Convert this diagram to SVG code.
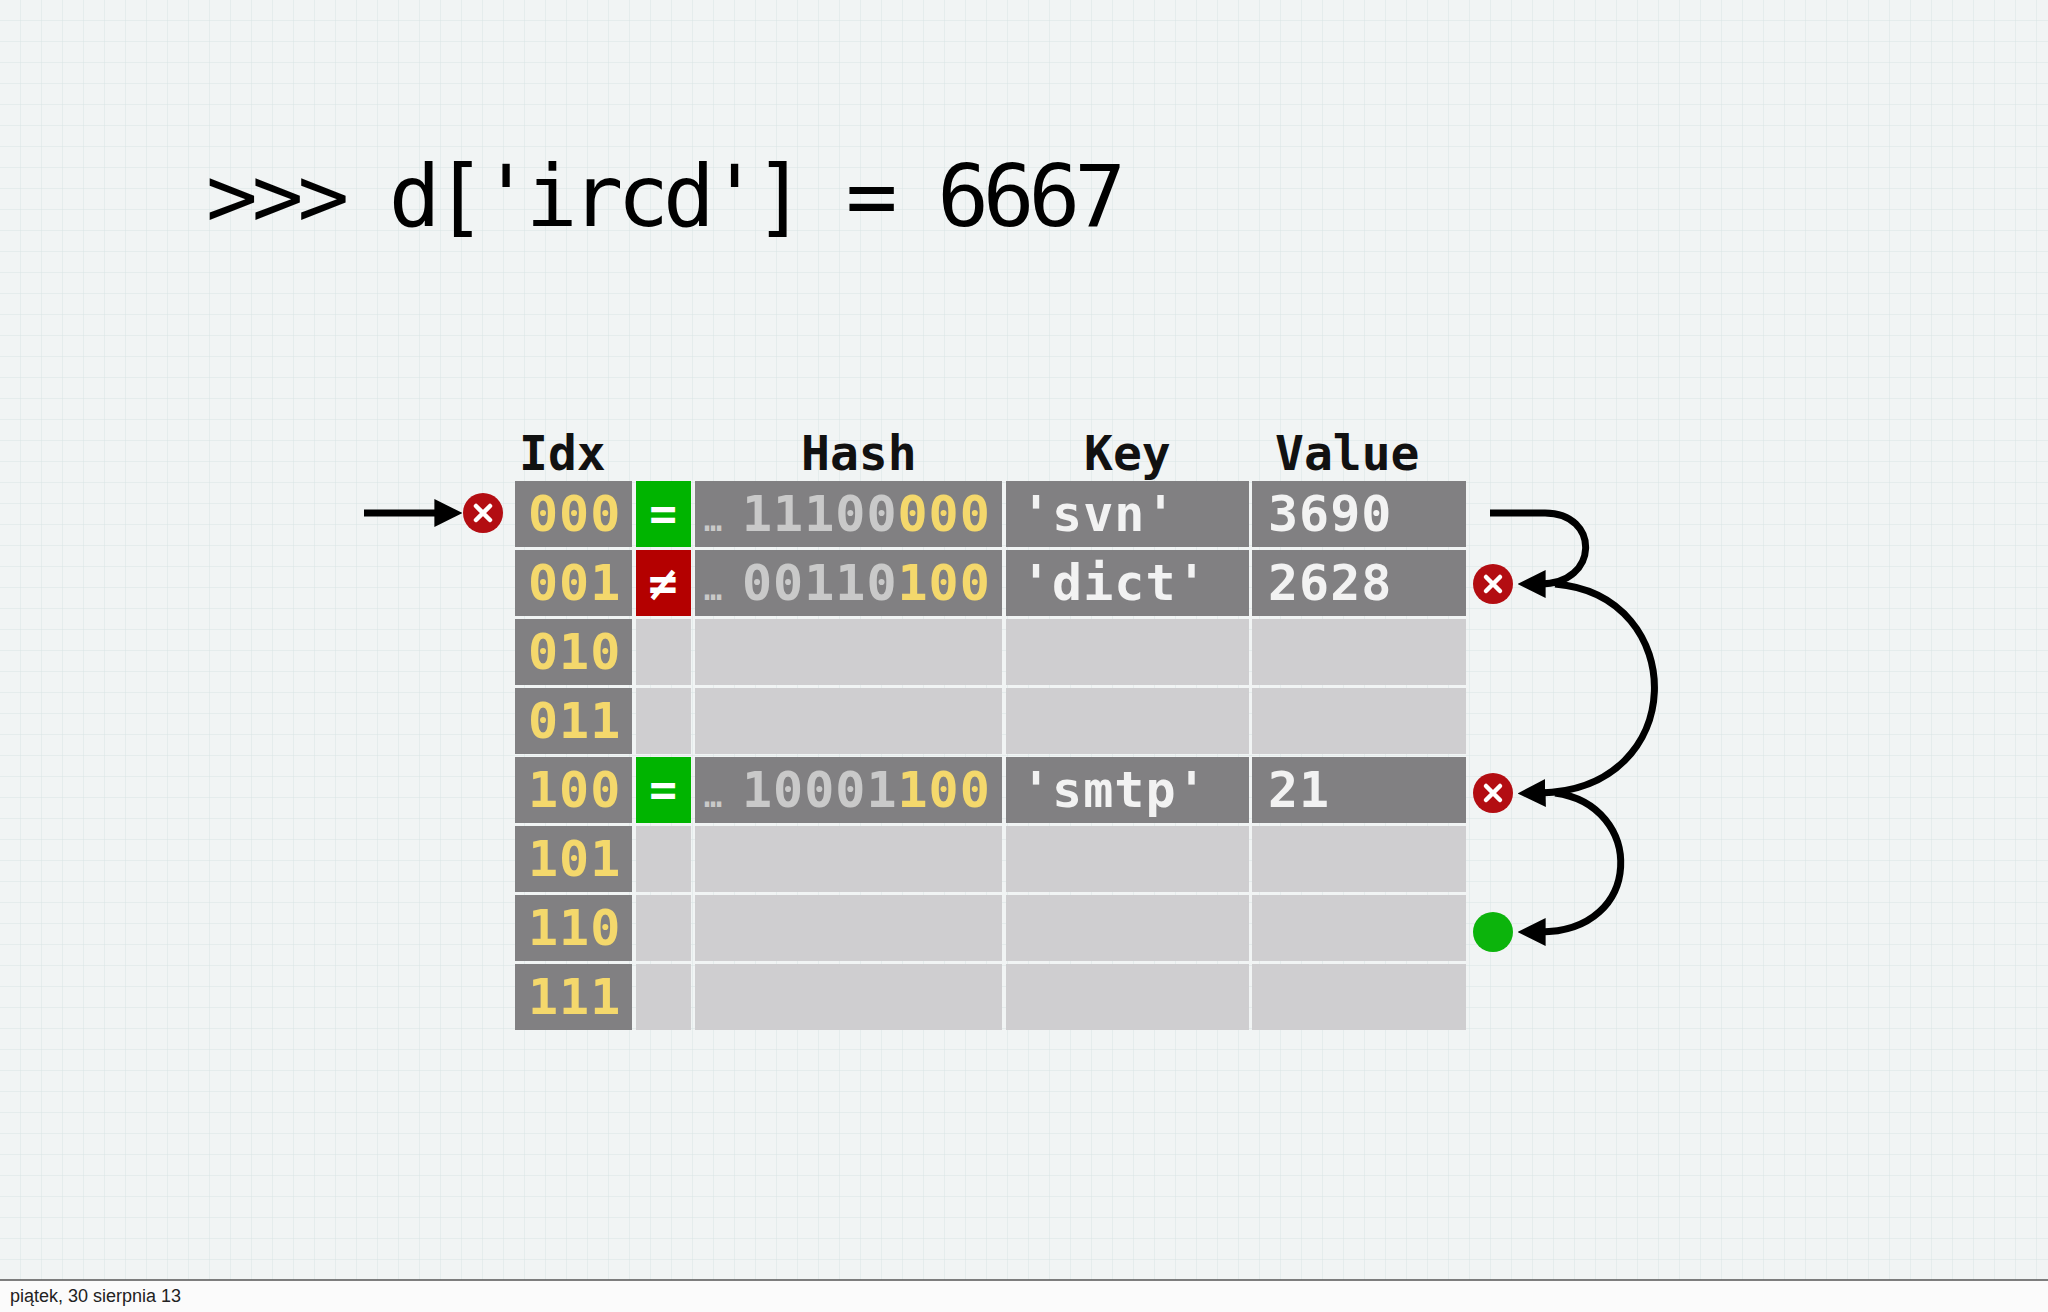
<svg xmlns="http://www.w3.org/2000/svg" width="2048" height="1312" viewBox="0 0 2048 1312">
<defs>
<pattern id="grid" width="21" height="21" patternUnits="userSpaceOnUse"><path d="M21 0V21M0 21H21" fill="none" stroke="#d9e4e4" stroke-width="1"/></pattern>
<marker id="ah" viewBox="0 0 10 10" refX="2" refY="5" markerWidth="4" markerHeight="4" orient="auto" markerUnits="strokeWidth"><path d="M0 0L10 5L0 10z" fill="#000"/></marker>
</defs>
<style>
.m{font-family:"DejaVu Sans Mono","Liberation Mono",monospace;font-weight:bold}
.dk{fill:#818082}.lt{fill:#cfced0}
.y{fill:#f4d86c}.g{fill:#c9c9c9}.w{fill:#f2f2f2}
.cell{font-size:50px;letter-spacing:1px}
.hd{font-size:48px;fill:#111}
.ln{fill:none;stroke:#000;stroke-width:7}
</style>
<rect width="2048" height="1312" fill="#f1f4f4"/>
<rect width="2048" height="1280" fill="url(#grid)"/>
<rect y="1280" width="2048" height="32" fill="#fbfbfb"/>
<line x1="0" y1="1280" x2="2048" y2="1280" stroke="#555" stroke-width="1.5"/>
<text x="10" y="1302" font-family="Liberation Sans,sans-serif" font-size="18" fill="#222">piątek, 30 sierpnia 13</text>

<text x="206" y="226" font-family="DejaVu Sans Mono,monospace" font-size="86" textLength="920" fill="#000">&gt;&gt;&gt; d['ircd'] = 6667</text>

<g id="headers" class="m hd">
<text x="519" y="470">Idx</text>
<text x="801" y="470">Hash</text>
<text x="1084" y="470">Key</text>
<text x="1275" y="470">Value</text>
</g>

<g id="table">
<g id="r0"><rect class="dk" x="515" y="481" width="117" height="66"/><rect fill="#00b400" x="636" y="481" width="55" height="66"/><rect class="dk" x="695" y="481" width="307" height="66"/><rect class="dk" x="1006" y="481" width="243" height="66"/><rect class="dk" x="1252" y="481" width="214" height="66"/>
<text class="m cell y" x="528" y="531">000</text><text class="m" x="663" y="530" font-size="46" fill="#fff" text-anchor="middle">=</text>
<text class="m" x="704" y="531" font-size="30" fill="#c9c9c9">…</text><text class="m cell" x="742" y="531"><tspan class="g">11100</tspan><tspan class="y">000</tspan></text>
<text class="m cell w" x="1021" y="531">'svn'</text><text class="m cell w" x="1268" y="531">3690</text></g>
<g id="r1"><rect class="dk" x="515" y="550" width="117" height="66"/><rect fill="#b40000" x="636" y="550" width="55" height="66"/><rect class="dk" x="695" y="550" width="307" height="66"/><rect class="dk" x="1006" y="550" width="243" height="66"/><rect class="dk" x="1252" y="550" width="214" height="66"/>
<text class="m cell y" x="528" y="600">001</text><text class="m" x="663" y="600" font-size="48" fill="#fff" text-anchor="middle">≠</text>
<text class="m" x="704" y="600" font-size="30" fill="#c9c9c9">…</text><text class="m cell" x="742" y="600"><tspan class="g">00110</tspan><tspan class="y">100</tspan></text>
<text class="m cell w" x="1021" y="600">'dict'</text><text class="m cell w" x="1268" y="600">2628</text></g>
<g id="r2"><rect class="dk" x="515" y="619" width="117" height="66"/><rect class="lt" x="636" y="619" width="55" height="66"/><rect class="lt" x="695" y="619" width="307" height="66"/><rect class="lt" x="1006" y="619" width="243" height="66"/><rect class="lt" x="1252" y="619" width="214" height="66"/>
<text class="m cell y" x="528" y="669">010</text></g>
<g id="r3"><rect class="dk" x="515" y="688" width="117" height="66"/><rect class="lt" x="636" y="688" width="55" height="66"/><rect class="lt" x="695" y="688" width="307" height="66"/><rect class="lt" x="1006" y="688" width="243" height="66"/><rect class="lt" x="1252" y="688" width="214" height="66"/>
<text class="m cell y" x="528" y="738">011</text></g>
<g id="r4"><rect class="dk" x="515" y="757" width="117" height="66"/><rect fill="#00b400" x="636" y="757" width="55" height="66"/><rect class="dk" x="695" y="757" width="307" height="66"/><rect class="dk" x="1006" y="757" width="243" height="66"/><rect class="dk" x="1252" y="757" width="214" height="66"/>
<text class="m cell y" x="528" y="807">100</text><text class="m" x="663" y="806" font-size="46" fill="#fff" text-anchor="middle">=</text>
<text class="m" x="704" y="807" font-size="30" fill="#c9c9c9">…</text><text class="m cell" x="742" y="807"><tspan class="g">10001</tspan><tspan class="y">100</tspan></text>
<text class="m cell w" x="1021" y="807">'smtp'</text><text class="m cell w" x="1268" y="807">21</text></g>
<g id="r5"><rect class="dk" x="515" y="826" width="117" height="66"/><rect class="lt" x="636" y="826" width="55" height="66"/><rect class="lt" x="695" y="826" width="307" height="66"/><rect class="lt" x="1006" y="826" width="243" height="66"/><rect class="lt" x="1252" y="826" width="214" height="66"/>
<text class="m cell y" x="528" y="876">101</text></g>
<g id="r6"><rect class="dk" x="515" y="895" width="117" height="66"/><rect class="lt" x="636" y="895" width="55" height="66"/><rect class="lt" x="695" y="895" width="307" height="66"/><rect class="lt" x="1006" y="895" width="243" height="66"/><rect class="lt" x="1252" y="895" width="214" height="66"/>
<text class="m cell y" x="528" y="945">110</text></g>
<g id="r7"><rect class="dk" x="515" y="964" width="117" height="66"/><rect class="lt" x="636" y="964" width="55" height="66"/><rect class="lt" x="695" y="964" width="307" height="66"/><rect class="lt" x="1006" y="964" width="243" height="66"/><rect class="lt" x="1252" y="964" width="214" height="66"/>
<text class="m cell y" x="528" y="1014">111</text></g>
</g>

<g id="markers">
<g id="x0"><circle cx="483" cy="513" r="20" fill="#b30d12"/><path d="M476 506L490 520M490 506L476 520" stroke="#fff" stroke-width="4.5" stroke-linecap="round"/></g>
<g id="x1"><circle cx="1493" cy="584" r="20" fill="#b30d12"/><path d="M1486 577L1500 591M1500 577L1486 591" stroke="#fff" stroke-width="4.5" stroke-linecap="round"/></g>
<g id="x2"><circle cx="1493" cy="793" r="20" fill="#b30d12"/><path d="M1486 786L1500 800M1500 786L1486 800" stroke="#fff" stroke-width="4.5" stroke-linecap="round"/></g>
<g id="ok"><circle cx="1493" cy="932" r="20" fill="#0cb40c"/></g>
</g>

<g id="connectors">
<path class="ln" d="M364 513H440" marker-end="url(#ah)"/>
<path class="ln" d="M1490 513H1545C1600 513 1600 584 1540 584" marker-end="url(#ah)"/>
<path class="ln" d="M1555 584C1690 595 1690 790 1540 793" marker-end="url(#ah)"/>
<path class="ln" d="M1555 793C1645 805 1645 932 1540 932" marker-end="url(#ah)"/>
</g>
</svg>
